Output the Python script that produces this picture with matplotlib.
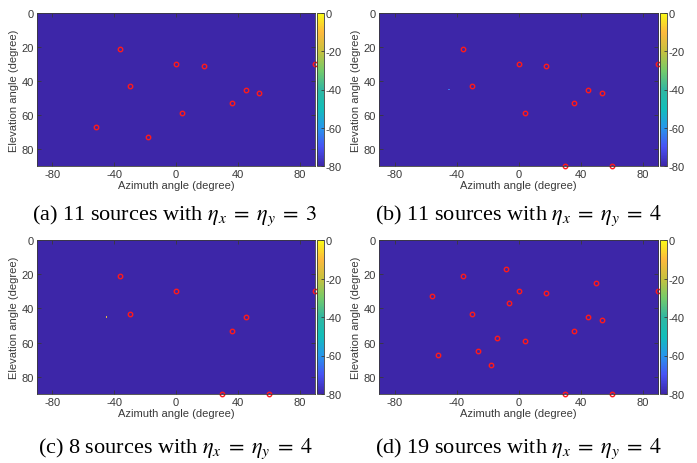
"""Spatial spectrum maps (azimuth x elevation) with the estimated source positions."""
import matplotlib
matplotlib.use("Agg")
import matplotlib.pyplot as plt
import numpy as np
from matplotlib.colors import LinearSegmentedColormap

# source positions: (azimuth, elevation) in degrees
az_a = [-36, 0, 18, 90, -30, 45, 54, 36, 4, -52, -18]
el_a = [21, 30, 31, 30, 43, 45, 47, 53, 59, 67, 73]

az_b = [-36, 0, 18, 90, -30, 45, 54, 36, 4, 30, 60]
el_b = [21, 30, 31, 30, 43, 45, 47, 53, 59, 90, 90]

az_c = [-36, 0, 90, -30, 45, 36, 30, 60]
el_c = [21, 30, 30, 43, 45, 53, 90, 90]

az_d = [-36, -8, -56, 0, 18, 50, 90, -6, -30, 45, 54, 36, -14, 4, -52, -26, -18, 30, 60]
el_d = [21, 17, 33, 30, 31, 25, 30, 37, 43, 45, 47, 53, 57, 59, 67, 65, 73, 90, 90]

# spectrum floor (dB) and the single stray cell some maps show at (-45, 45)
floor_db = -80
stray_db = [None, -65, -15, None]
stray_pos = (-45, 45)

captions = [
    r"(a) 11 sources with $\eta_x\;=\;\eta_y\;=\;3$",
    r"(b) 11 sources with $\eta_x\;=\;\eta_y\;=\;4$",
    r"(c) 8 sources with $\eta_x\;=\;\eta_y\;=\;4$",
    r"(d) 19 sources with $\eta_x\;=\;\eta_y\;=\;4$",
]

# approximate MATLAB parula
parula = LinearSegmentedColormap.from_list("parula", [
    (0.000, (0.2422, 0.1504, 0.6603)),
    (0.125, (0.2810, 0.3228, 0.9579)),
    (0.250, (0.1540, 0.5902, 0.9218)),
    (0.375, (0.0704, 0.7457, 0.7258)),
    (0.500, (0.1943, 0.7157, 0.6330)),
    (0.625, (0.4580, 0.7952, 0.4126)),
    (0.750, (0.7800, 0.7567, 0.2445)),
    (0.875, (0.9932, 0.7255, 0.2376)),
    (1.000, (0.9769, 0.9839, 0.0805)),
])

plt.rcParams["font.family"] = ["Liberation Sans", "DejaVu Sans"]
plt.rcParams["mathtext.fontset"] = "stix"
plt.rcParams["axes.unicode_minus"] = False
gray = "#3a3a3a"

W, H = 697, 464
fig = plt.figure(figsize=(W / 100, H / 100), dpi=100)

# pixel boxes (left, top, right, bottom) for each map
boxes = [(37, 14, 315, 167), (379, 14, 658, 167),
         (37, 241, 315, 395), (379, 241, 658, 395)]
cap_xy = [(175, 216), (519, 216), (175, 449), (519, 449)]
series = [(az_a, el_a), (az_b, el_b), (az_c, el_c), (az_d, el_d)]

az_grid = np.arange(-90, 91)
el_grid = np.arange(0, 91)

for k, ((l, t, r, b), (az, el)) in enumerate(zip(boxes, series)):
    ax = fig.add_axes([l / W, 1 - b / H, (r - l) / W, (b - t) / H])
    spec = np.full((len(el_grid), len(az_grid)), float(floor_db))
    if stray_db[k] is not None:
        spec[stray_pos[1], stray_pos[0] + 90] = stray_db[k]
    im = ax.imshow(spec, cmap=parula, vmin=-80, vmax=0, aspect="auto",
                   extent=[-90.5, 90.5, 90.5, -0.5], interpolation="nearest")
    ax.plot(az, el, "o", ms=3.2, mfc="none", mec="#ff1a1a", mew=1.0, clip_on=False)
    ax.set_xlim(-90, 90)
    ax.set_ylim(90, 0)
    ax.set_xticks([-80, -40, 0, 40, 80])
    ax.set_yticks([0, 20, 40, 60, 80])
    ax.tick_params(direction="in", top=True, right=True, length=3, width=0.6,
                   labelsize=8, colors=gray, pad=2)
    for s in ax.spines.values():
        s.set_color(gray)
        s.set_linewidth(0.6)
    ax.set_xlabel("Azimuth angle (degree)", fontsize=8, color=gray, labelpad=1)
    ax.set_ylabel("Elevation angle (degree)", fontsize=8, color=gray, labelpad=2)

    cax = fig.add_axes([(r + 2) / W, 1 - b / H, 7 / W, (b - t) / H])
    cb = fig.colorbar(im, cax=cax, ticks=[-80, -60, -40, -20, 0])
    cb.ax.tick_params(direction="in", length=2, width=0.6, labelsize=8,
                      colors=gray, pad=1)
    cb.outline.set_edgecolor(gray)
    cb.outline.set_linewidth(0.6)

    cx, cy = cap_xy[k]
    fig.text(cx / W, 1 - cy / H, captions[k], ha="center", va="center",
             fontsize=16, family=["Liberation Serif", "DejaVu Serif"])

fig.savefig("out.png", dpi=100)
